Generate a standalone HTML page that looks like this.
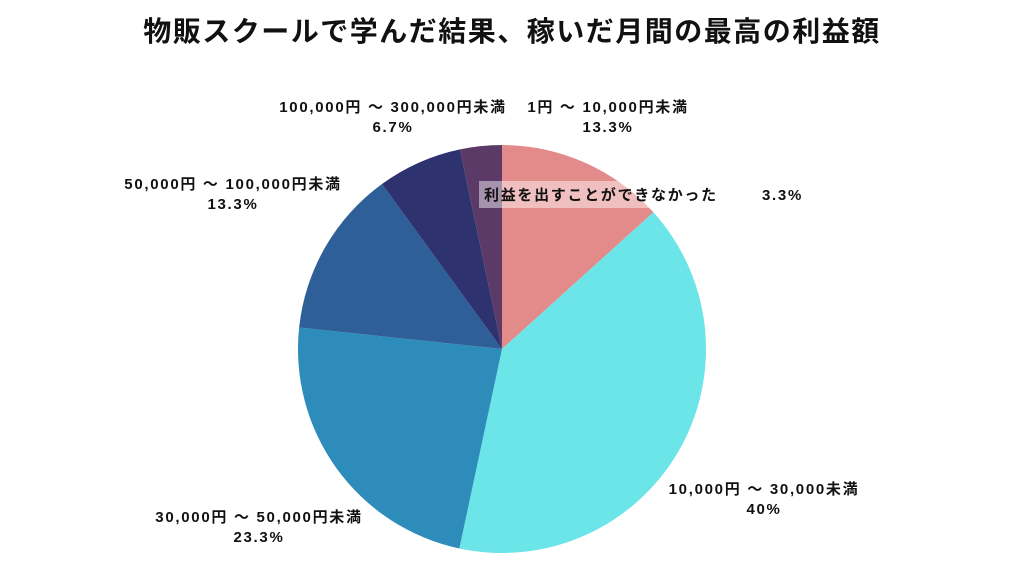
<!DOCTYPE html>
<html><head><meta charset="utf-8"><style>
body{margin:0;background:#fff;width:1024px;height:576px;overflow:hidden;font-family:"Liberation Sans","Noto Sans CJK JP",sans-serif}
svg text{font-family:"Liberation Sans","Noto Sans CJK JP",sans-serif;fill:#111}
</style></head><body>
<svg width="1024" height="576">
<text x="512" y="41" text-anchor="middle" font-size="28" font-weight="bold" letter-spacing="1.5">物販スクールで学んだ結果、稼いだ月間の最高の利益額</text>
<g id="slices"></g>
<g id="labels"></g>
</svg>
<script>
const categories=["1円 ～ 10,000円未満","10,000円 ～ 30,000未満","30,000円 ～ 50,000円未満","50,000円 ～ 100,000円未満","100,000円 ～ 300,000円未満","利益を出すことができなかった"];
const values=[13.3,40,23.3,13.3,6.7,3.3];
const valueLabels=["13.3%","40%","23.3%","13.3%","6.7%","3.3%"];
const colors=["#E38A8A","#6BE5E8","#2E8CBB","#2F5F98","#2E3370","#5B3A68"];
const cx=502,cy=349,r=204;
const ns="http://www.w3.org/2000/svg";
const total=values.reduce((a,b)=>a+b,0);
const sg=document.getElementById('slices'),lg=document.getElementById('labels');
let a0=0;
const labelPos=[[608,112,'middle'],[764,494,'middle'],[259,522,'middle'],[233,189,'middle'],[393,112,'middle'],[0,0,'box']];
function mk(x,y,txt,anchor){
  const t=document.createElementNS(ns,'text');
  t.setAttribute('x',x);t.setAttribute('y',y);t.setAttribute('font-size','15');t.setAttribute('font-weight','bold');
  t.setAttribute('letter-spacing','1.7');t.setAttribute('text-anchor',anchor);
  t.textContent=txt;
  lg.appendChild(t);
  return t;
}
values.forEach((v,i)=>{
  const a1=a0+v/total*2*Math.PI;
  const x0=cx+r*Math.sin(a0),y0=cy-r*Math.cos(a0),x1=cx+r*Math.sin(a1),y1=cy-r*Math.cos(a1);
  const p=document.createElementNS(ns,'path');
  p.setAttribute('d',`M${cx},${cy}L${x0},${y0}A${r},${r} 0 ${a1-a0>Math.PI?1:0} 1 ${x1},${y1}Z`);
  p.setAttribute('fill',colors[i]);
  
  
  sg.appendChild(p);
  a0=a1;
  const lp=labelPos[i];
  if(lp[2]==='box'){
    const rect=document.createElementNS(ns,'rect');
    rect.setAttribute('x',479);rect.setAttribute('y',181);rect.setAttribute('width',242);rect.setAttribute('height',27);
    rect.setAttribute('fill','rgba(255,255,255,0.45)');
    
    
    lg.appendChild(rect);
    const t=mk(484,200,categories[i],'start');
    
    
    const t2=mk(762,200,valueLabels[i],'start');
    
    
  } else {
    const t=mk(lp[0],lp[1],categories[i],'middle');
    
    
    const t2=mk(lp[0],lp[1]+20,valueLabels[i],'middle');
    
    
  }
});
</script>
</body></html>
